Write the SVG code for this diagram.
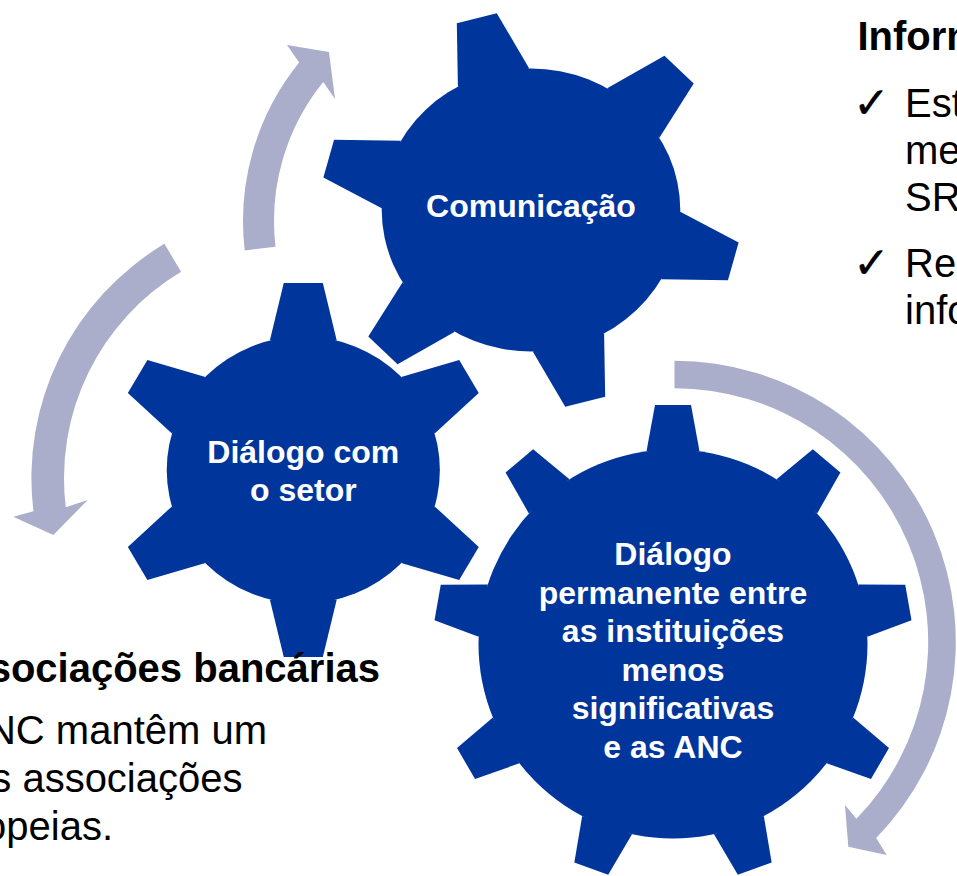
<svg xmlns="http://www.w3.org/2000/svg" width="957" height="876" viewBox="0 0 957 876">
<style>
.gear{fill:#00359B}
.arrow{fill:#AAAECB}
.lbl{font-family:"Liberation Sans",Arial,sans-serif;font-weight:bold;font-size:32px;fill:#FFFFFF;text-anchor:middle}
.hd{font-family:"Liberation Sans",Arial,sans-serif;font-weight:bold;font-size:40px;fill:#000000}
.bd{font-family:"Liberation Sans",Arial,sans-serif;font-size:40px;fill:#000000}
.ck{font-family:"DejaVu Sans",sans-serif;font-size:44px;fill:#000000;stroke:#000000;stroke-width:0.3}
</style>
<defs>
<polygon id="t1" points="-35,-137.1 -19.6,-198.5 19.6,-198.5 35,-137.1"/>
<polygon id="t2" points="-32.7,-129.4 -19.1,-187 19.1,-187 32.7,-129.4"/>
<polygon id="t3" points="-26.5,-192.7 -18,-239 18,-239 26.5,-192.7"/>
</defs>
<rect width="957" height="876" fill="#FFFFFF"/>
<g id="connectors" class="arrow">
<path d="M 244.72 250.40 A 252 252 0 0 1 299.16 62.41 L 287 45 L 329 52 L 335 99 L 323.25 81.92 A 221 221 0 0 0 275.51 246.78 Z"/>
<path d="M 164.42 243.85 A 272.6 272.6 0 0 0 33.43 511.22 L 13.3 516.7 L 53.3 535 L 87.7 500 L 65.79 507.25 A 240 240 0 0 1 181.11 271.85 Z"/>
<path d="M 674.5 360.7 A 281.3 281.3 0 0 1 876.17 838.11 L 886.7 855 L 848.3 846.7 L 845 805 L 856.38 818.87 A 253.7 253.7 0 0 0 674.5 388.3 Z"/>
</g>
<g id="gear-comunicacao">
<g class="gear" transform="translate(531,210) scale(1.055,1)">
<circle r="141.5"/>
<use href="#t1" transform="rotate(-15)"/>
<use href="#t1" transform="rotate(45)"/>
<use href="#t1" transform="rotate(105)"/>
<use href="#t1" transform="rotate(165)"/>
<use href="#t1" transform="rotate(225)"/>
<use href="#t1" transform="rotate(285)"/>
</g>
<text class="lbl" x="531" y="217">Comunicação</text>
</g>
<g id="gear-dialogo-setor">
<g class="gear" transform="translate(303.3,470) scale(1.023,1)">
<circle r="133.5"/>
<use href="#t2" transform="rotate(0)"/>
<use href="#t2" transform="rotate(60)"/>
<use href="#t2" transform="rotate(120)"/>
<use href="#t2" transform="rotate(180)"/>
<use href="#t2" transform="rotate(240)"/>
<use href="#t2" transform="rotate(300)"/>
</g>
<text class="lbl" x="303.3" y="463">Diálogo com</text>
<text class="lbl" x="303.3" y="501">o setor</text>
</g>
<g id="gear-dialogo-permanente">
<g class="gear" transform="translate(673,644)">
<circle r="194.5"/>
<use href="#t3" transform="rotate(0)"/>
<use href="#t3" transform="rotate(40)"/>
<use href="#t3" transform="rotate(80)"/>
<use href="#t3" transform="rotate(120)"/>
<use href="#t3" transform="rotate(160)"/>
<use href="#t3" transform="rotate(200)"/>
<use href="#t3" transform="rotate(240)"/>
<use href="#t3" transform="rotate(280)"/>
<use href="#t3" transform="rotate(320)"/>
</g>
<text class="lbl" x="673" y="565">Diálogo</text>
<text class="lbl" x="673" y="603.5">permanente entre</text>
<text class="lbl" x="673" y="642">as instituições</text>
<text class="lbl" x="673" y="680.5">menos</text>
<text class="lbl" x="673" y="719">significativas</text>
<text class="lbl" x="673" y="757.5">e as ANC</text>
</g>
<g id="text-left">
<text class="hd" x="380" y="681.7" text-anchor="end">sociações bancárias</text>
<text class="bd" x="267" y="744" text-anchor="end">NC mantêm um</text>
<text class="bd" x="242.5" y="791.7" text-anchor="end">s associações</text>
<text class="bd" x="113" y="839.5" text-anchor="end">opeias.</text>
</g>
<g id="text-right">
<text class="hd" x="857.5" y="50">Inform</text>
<text class="ck" x="853" y="118">✓</text>
<text class="bd" x="905" y="117">Est</text>
<text class="bd" x="905" y="164">mec</text>
<text class="bd" x="905" y="211">SRE</text>
<text class="ck" x="853" y="278">✓</text>
<text class="bd" x="905" y="277">Rea</text>
<text class="bd" x="905" y="324">info</text>
</g>
</svg>
